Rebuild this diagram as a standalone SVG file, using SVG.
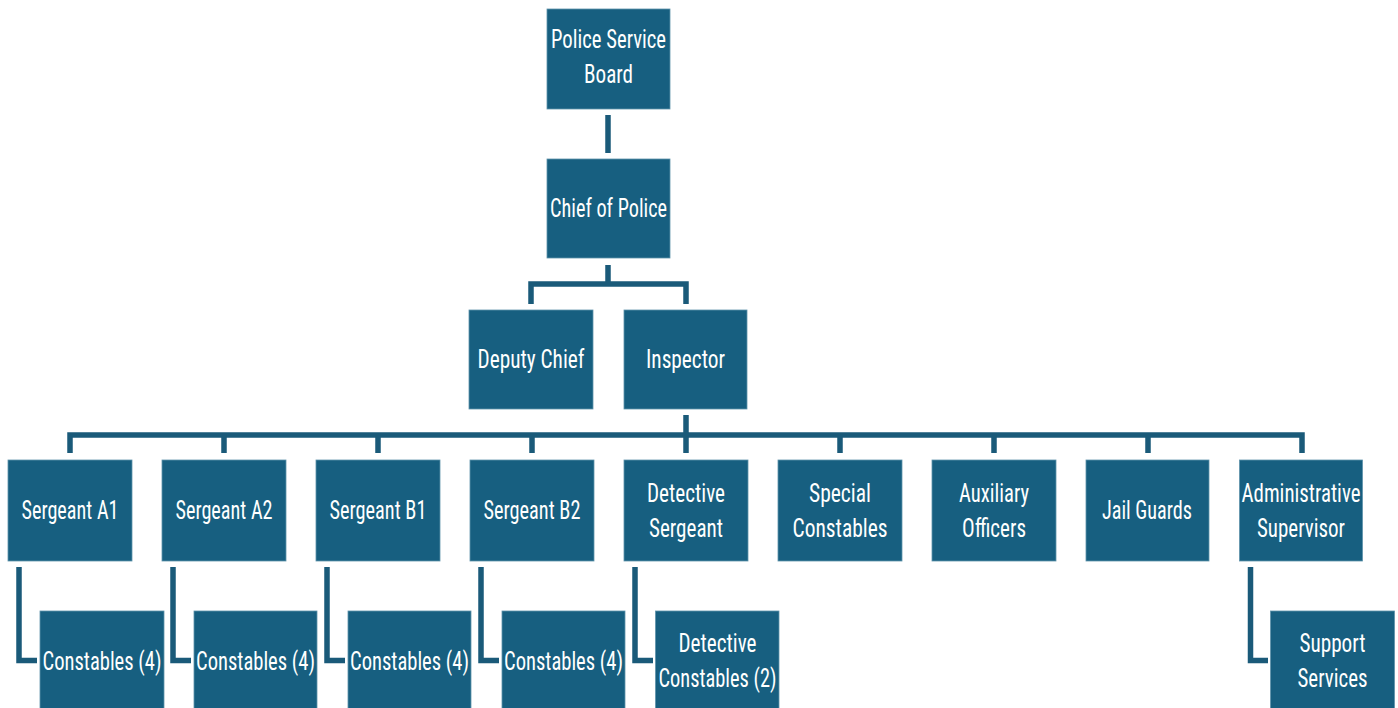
<svg xmlns="http://www.w3.org/2000/svg" width="1398" height="708" viewBox="0 0 1398 708">
<style>
.box{fill:#175f80;stroke:#5f93ab;stroke-width:0.8}
.lbl{fill:#ffffff;font-family:"Liberation Sans Narrow","Roboto Condensed","DejaVu Sans Condensed","Liberation Sans",sans-serif;font-size:25px;text-anchor:middle}
.con{fill:none;stroke:#1a5a79;stroke-width:5.5;stroke-linejoin:miter;stroke-linecap:butt}
</style>
<rect width="1398" height="708" fill="#ffffff"/>
<g id="connectors">
<path class="con" d="M608,115 V153"/>
<path class="con" d="M608,265 V284 M531,304 V284 H686 V304"/>
<path class="con" d="M686,415 V435 M70,453 V435 H1302 V453 M224,435 V453 M378,435 V453 M532,435 V453 M686,435 V453 M840,435 V453 M994,435 V453 M1148,435 V453"/>
<path class="con" d="M19,567 V660.5 H37"/>
<path class="con" d="M173,567 V660.5 H191"/>
<path class="con" d="M327,567 V660.5 H345"/>
<path class="con" d="M481,567 V660.5 H499"/>
<path class="con" d="M635,567 V660.5 H653"/>
<path class="con" d="M1250.5,567 V660.5 H1268"/>
</g>
<g id="police-service-board"><rect class="box" x="547" y="9" width="123" height="100"/><text class="lbl" x="608.5" y="48" textLength="115" lengthAdjust="spacingAndGlyphs">Police Service</text><text class="lbl" x="608.5" y="83" textLength="49" lengthAdjust="spacingAndGlyphs">Board</text></g>
<g id="chief-of-police"><rect class="box" x="547" y="159" width="123" height="99"/><text class="lbl" x="608.5" y="217" textLength="117" lengthAdjust="spacingAndGlyphs">Chief of Police</text></g>
<g id="deputy-chief"><rect class="box" x="469" y="310" width="124" height="99"/><text class="lbl" x="531" y="368" textLength="107" lengthAdjust="spacingAndGlyphs">Deputy Chief</text></g>
<g id="inspector"><rect class="box" x="624" y="310" width="123" height="99"/><text class="lbl" x="685.5" y="368" textLength="79" lengthAdjust="spacingAndGlyphs">Inspector</text></g>
<g id="sergeant-a1"><rect class="box" x="8" y="460" width="124" height="101"/><text class="lbl" x="70" y="519" textLength="97" lengthAdjust="spacingAndGlyphs">Sergeant A1</text></g>
<g id="sergeant-a2"><rect class="box" x="162" y="460" width="124" height="101"/><text class="lbl" x="224" y="519" textLength="97" lengthAdjust="spacingAndGlyphs">Sergeant A2</text></g>
<g id="sergeant-b1"><rect class="box" x="316" y="460" width="124" height="101"/><text class="lbl" x="378" y="519" textLength="97" lengthAdjust="spacingAndGlyphs">Sergeant B1</text></g>
<g id="sergeant-b2"><rect class="box" x="470" y="460" width="124" height="101"/><text class="lbl" x="532" y="519" textLength="97" lengthAdjust="spacingAndGlyphs">Sergeant B2</text></g>
<g id="detective-sergeant"><rect class="box" x="624" y="460" width="124" height="101"/><text class="lbl" x="686" y="502" textLength="78" lengthAdjust="spacingAndGlyphs">Detective</text><text class="lbl" x="686" y="537" textLength="74" lengthAdjust="spacingAndGlyphs">Sergeant</text></g>
<g id="special-constables"><rect class="box" x="778" y="460" width="124" height="101"/><text class="lbl" x="840" y="502" textLength="62" lengthAdjust="spacingAndGlyphs">Special</text><text class="lbl" x="840" y="537" textLength="95" lengthAdjust="spacingAndGlyphs">Constables</text></g>
<g id="auxiliary-officers"><rect class="box" x="932" y="460" width="124" height="101"/><text class="lbl" x="994" y="502" textLength="70" lengthAdjust="spacingAndGlyphs">Auxiliary</text><text class="lbl" x="994" y="537" textLength="64" lengthAdjust="spacingAndGlyphs">Officers</text></g>
<g id="jail-guards"><rect class="box" x="1086" y="460" width="123" height="101"/><text class="lbl" x="1147" y="519" textLength="90" lengthAdjust="spacingAndGlyphs">Jail Guards</text></g>
<g id="administrative-supervisor"><rect class="box" x="1239.5" y="460" width="123" height="101"/><text class="lbl" x="1301" y="502" textLength="119" lengthAdjust="spacingAndGlyphs">Administrative</text><text class="lbl" x="1301" y="537" textLength="88" lengthAdjust="spacingAndGlyphs">Supervisor</text></g>
<g id="constables-a1"><rect class="box" x="40" y="611" width="124" height="100"/><text class="lbl" x="102" y="670" textLength="119" lengthAdjust="spacingAndGlyphs">Constables (4)</text></g>
<g id="constables-a2"><rect class="box" x="194" y="611" width="123" height="100"/><text class="lbl" x="255.5" y="670" textLength="119" lengthAdjust="spacingAndGlyphs">Constables (4)</text></g>
<g id="constables-b1"><rect class="box" x="348" y="611" width="123" height="100"/><text class="lbl" x="409.5" y="670" textLength="119" lengthAdjust="spacingAndGlyphs">Constables (4)</text></g>
<g id="constables-b2"><rect class="box" x="502" y="611" width="123" height="100"/><text class="lbl" x="563.5" y="670" textLength="119" lengthAdjust="spacingAndGlyphs">Constables (4)</text></g>
<g id="detective-constables"><rect class="box" x="655.5" y="611" width="123.5" height="100"/><text class="lbl" x="717.5" y="652" textLength="78" lengthAdjust="spacingAndGlyphs">Detective</text><text class="lbl" x="717.5" y="687" textLength="118" lengthAdjust="spacingAndGlyphs">Constables (2)</text></g>
<g id="support-services"><rect class="box" x="1270.5" y="611" width="124" height="100"/><text class="lbl" x="1332.5" y="652" textLength="66" lengthAdjust="spacingAndGlyphs">Support</text><text class="lbl" x="1332.5" y="687" textLength="70" lengthAdjust="spacingAndGlyphs">Services</text></g>
</svg>
